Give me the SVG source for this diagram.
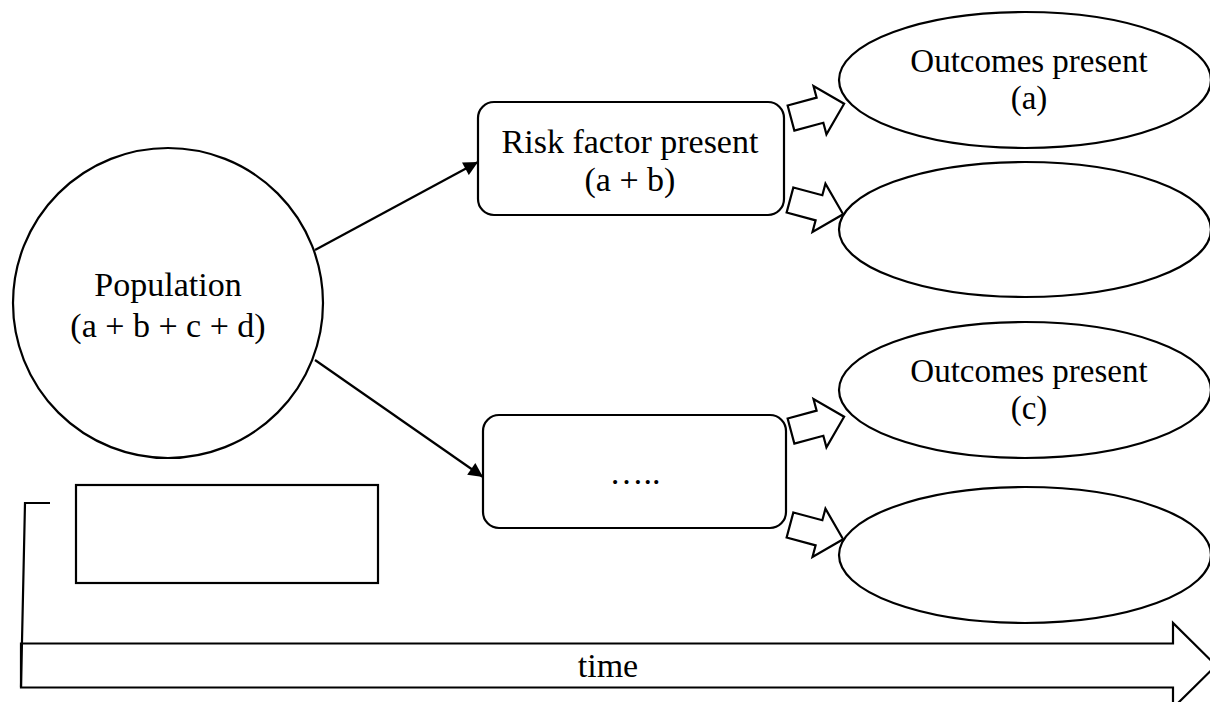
<svg xmlns="http://www.w3.org/2000/svg" width="1210" height="702" viewBox="0 0 1210 702">
  <style>
    .shape { fill: #ffffff; stroke: #000000; stroke-width: 2.2; }
    .line { fill: none; stroke: #000000; stroke-width: 2.2; }
    .label { font-family: "Liberation Serif", "Times New Roman", serif; font-size: 34px; fill: #000000; text-anchor: middle; }
    .small { font-size: 33px; }
  </style>
  <defs>
    <marker id="head" viewBox="0 0 10 10" refX="10" refY="5" markerWidth="7.5" markerHeight="6.5" markerUnits="strokeWidth" orient="auto">
      <path d="M0,0 L10,5 L0,10 Z" fill="#000000"/>
    </marker>
    <!-- block arrow, tail centred on the origin, pointing along +x -->
    <polygon id="block-arrow" points="0,-13 30,-13 30,-25 55,0 30,25 30,13 0,13"/>
  </defs>

  <rect width="1210" height="702" fill="#ffffff"/>

  <!-- time axis -->
  <g id="time-axis">
    <polygon class="shape" points="21,643.5 1173,643.5 1173,623 1216,665.5 1173,708 1173,687.5 21,687.5"/>
    <text class="label" x="608" y="677">time</text>
  </g>

  <!-- bracket from the empty box down to the time axis -->
  <g id="bracket">
    <polyline class="line" points="50,503 25,503 21,687"/>
  </g>

  <g id="population">
    <circle class="shape" cx="168" cy="303" r="155"/>
    <text class="label" x="168" y="296">Population</text>
    <text class="label" x="168" y="337">(a + b + c + d)</text>
  </g>

  <g id="empty-box">
    <rect class="shape" x="76" y="485" width="302" height="98"/>
  </g>

  <g id="risk-present">
    <rect class="shape" x="478" y="102" width="306" height="113" rx="16" ry="16"/>
    <text class="label" x="630" y="153">Risk factor present</text>
    <text class="label" x="630" y="191">(a + b)</text>
  </g>

  <g id="risk-absent">
    <rect class="shape" x="483" y="415" width="303" height="113" rx="16" ry="16"/>
    <text class="label" x="635" y="484">…..</text>
  </g>

  <g id="outcome-a">
    <ellipse class="shape" cx="1025" cy="80" rx="186" ry="68"/>
    <text class="label small" x="1029" y="72">Outcomes present</text>
    <text class="label small" x="1029" y="109">(a)</text>
  </g>

  <g id="outcome-b">
    <ellipse class="shape" cx="1025" cy="229.5" rx="186" ry="67.5"/>
  </g>

  <g id="outcome-c">
    <ellipse class="shape" cx="1025" cy="390" rx="186" ry="68"/>
    <text class="label small" x="1029" y="382">Outcomes present</text>
    <text class="label small" x="1029" y="419">(c)</text>
  </g>

  <g id="outcome-d">
    <ellipse class="shape" cx="1025" cy="555" rx="186" ry="68"/>
  </g>

  <g id="connectors">
    <line class="line" x1="315" y1="250" x2="478" y2="162" marker-end="url(#head)"/>
    <line class="line" x1="315" y1="360" x2="483" y2="477" marker-end="url(#head)"/>
    <use href="#block-arrow" class="shape" transform="translate(791,118) rotate(-15)"/>
    <use href="#block-arrow" class="shape" transform="translate(790,200) rotate(15)"/>
    <use href="#block-arrow" class="shape" transform="translate(791,431) rotate(-15)"/>
    <use href="#block-arrow" class="shape" transform="translate(790,525) rotate(15)"/>
  </g>
</svg>
